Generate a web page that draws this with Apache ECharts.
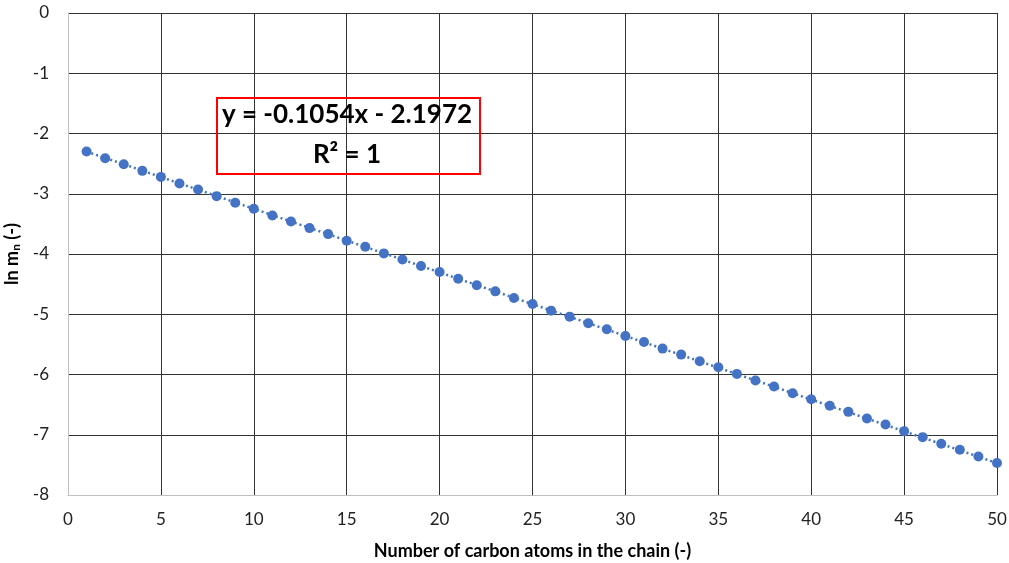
<!DOCTYPE html>
<html>
<head>
<meta charset="utf-8">
<script src="https://cdn.jsdelivr.net/npm/echarts@6/dist/echarts.min.js"></script>
<style>
  html, body { margin: 0; padding: 0; background: #fff; }
  #chart { width: 1009px; height: 563px; }
</style>
</head>
<body>
<div id="chart"></div>
<script>
// number of carbon atoms
var carbonAtoms = [];
for (var i = 1; i <= 50; i++) carbonAtoms.push(i);
// ln m_n
var lnMn = [
  -2.30, -2.41, -2.51, -2.62, -2.72, -2.83, -2.93, -3.04, -3.15, -3.25,
  -3.36, -3.46, -3.57, -3.67, -3.78, -3.88, -3.99, -4.09, -4.20, -4.30,
  -4.41, -4.52, -4.62, -4.73, -4.83, -4.94, -5.04, -5.15, -5.25, -5.36,
  -5.46, -5.57, -5.67, -5.78, -5.88, -5.99, -6.10, -6.20, -6.31, -6.41,
  -6.52, -6.62, -6.73, -6.83, -6.94, -7.04, -7.15, -7.25, -7.36, -7.47
];
// linear trendline endpoints
var trendX = [1, 50];
var trendY = [-2.30, -7.47];
var equationText = 'y = -0.1054x - 2.1972';
var r2Text = 'R² = 1';

var font = 'Lato, "Open Sans", sans-serif';
var chart = echarts.init(document.getElementById('chart'));

chart.setOption({
  animation: false,
  grid: { left: 68, right: 12, top: 13, bottom: 68, outerBoundsMode: 'none' },
  xAxis: {
    type: 'value', min: 0, max: 50, interval: 5,
    name: 'Number of carbon atoms in the chain (-)',
    nameLocation: 'middle', nameGap: 47,
    nameTextStyle: { fontFamily: font, fontSize: 18, fontWeight: 'bold', color: '#000' },
    axisLine: { show: true, onZero: false, lineStyle: { color: '#bfbfbf', width: 1 } },
    axisTick: { show: false },
    axisLabel: { fontFamily: font, fontSize: 17, color: '#222', margin: 16 },
    splitLine: { show: true, lineStyle: { color: '#333', width: 1 } }
  },
  yAxis: {
    type: 'value', min: -8, max: 0, interval: 1,
    name: '{a|ln m}{s|n}{a| (-)}',
    nameLocation: 'middle', nameGap: 39, nameRotate: 90,
    nameTextStyle: {
      rich: {
        a: { fontFamily: font, fontSize: 18, fontWeight: 'bold', color: '#000' },
        s: { fontFamily: font, fontSize: 12, fontWeight: 'bold', color: '#000', verticalAlign: 'bottom', padding: [8, 0, 0, 0] }
      }
    },
    axisLine: { show: true, lineStyle: { color: '#bfbfbf', width: 1 } },
    axisTick: { show: false },
    axisLabel: { fontFamily: font, fontSize: 17, color: '#222', margin: 19 },
    splitLine: { show: true, lineStyle: { color: '#333', width: 1 } }
  },
  series: [
    {
      name: 'trend', type: 'line', silent: true,
      data: trendX.map(function (x, i) { return [x, trendY[i]]; }),
      symbol: 'none',
      lineStyle: { color: '#4472c4', width: 2.5, type: [2, 3] },
      z: 2
    },
    {
      name: 'ln mn', type: 'line',
      data: carbonAtoms.map(function (x, i) { return [x, lnMn[i]]; }),
      symbol: 'circle', symbolSize: 10,
      itemStyle: { color: '#4472c4' },
      lineStyle: { width: 0 },
      z: 3
    }
  ],
  graphic: [
    {
      type: 'rect', left: 216, top: 97,
      shape: { width: 263, height: 76 },
      style: { fill: 'rgba(255,255,255,0)', stroke: '#ff0000', lineWidth: 2 },
      z: 10
    },
    {
      type: 'text', x: 347, y: 102,
      style: { text: equationText, font: 'bold 26px ' + font, fill: '#000', textAlign: 'center' },
      z: 11
    },
    {
      type: 'text', x: 347, y: 142,
      style: { text: r2Text, font: 'bold 26px ' + font, fill: '#000', textAlign: 'center' },
      z: 11
    }
  ]
});
</script>
</body>
</html>
